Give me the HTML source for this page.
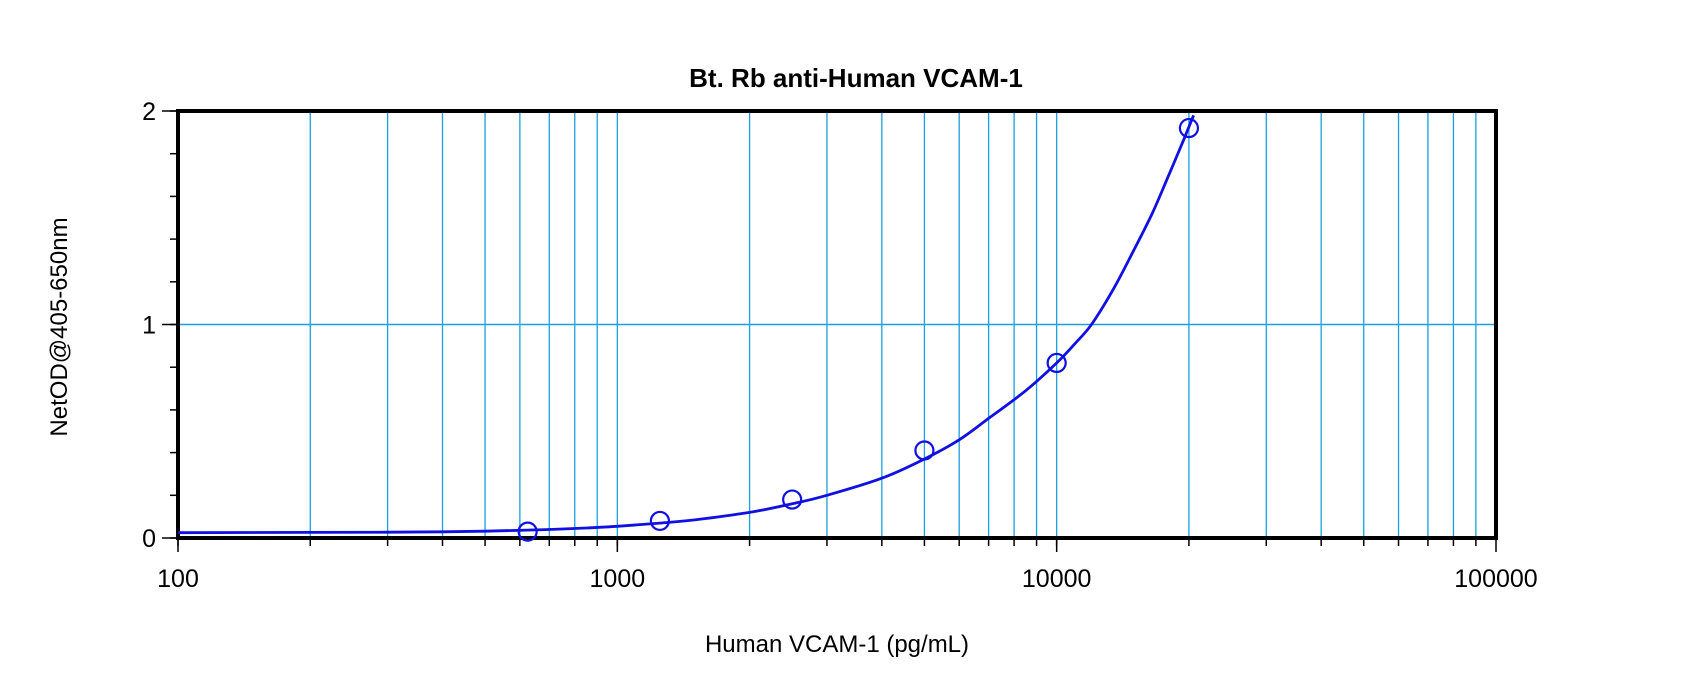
<!DOCTYPE html>
<html><head><meta charset="utf-8"><style>body{margin:0;background:#fff}svg{display:block;font-family:"Liberation Sans",sans-serif}</style></head>
<body>
<svg id="c" width="1700" height="697"></svg>
<script>
const xTicks=[100,1000,10000,100000];
const xTickLabels=["100","1000","10000","100000"];
const yTicks=[0,1,2];
const yTickLabels=["0","1","2"];
const pointX=[625,1250,2500,5000,10000,20000];
const pointY=[0.03,0.08,0.18,0.41,0.82,1.92];
const curveX=[100,200,300,400,500,600,700,850,1000,1250,1500,2000,2500,3000,4000,5000,6000,7000,8500,10000,11000,12000,13500,15000,16500,18000,19500,20500];
const curveY=[0.025,0.026,0.027,0.029,0.032,0.036,0.04,0.047,0.055,0.07,0.085,0.12,0.16,0.2,0.28,0.37,0.46,0.56,0.69,0.82,0.91,1.0,1.17,1.35,1.52,1.7,1.87,1.98];
const L=178,R=1496,T=111,B=538;
const xs=v=>L+(Math.log10(v)-2)/3*(R-L);
const ys=v=>B-v/2*(B-T);
const svg=document.getElementById('c');const NS='http://www.w3.org/2000/svg';
function mk(t,a,p){const e=document.createElementNS(NS,t);for(const k in a)e.setAttribute(k,a[k]);(p||svg).appendChild(e);return e;}
for(let d=100;d<100000;d*=10){for(let m=1;m<10;m++){const v=d*m;const x=xs(v);
 if(v>100){const g=mk('line',{x1:x,x2:x,y1:T,y2:B,stroke:'#1aa0e0','stroke-width':1.3});
 }
 const t=mk('line',{x1:x,x2:x,y1:B,y2:B+8,stroke:'#000','stroke-width':1.5});
 }}
const hg=mk('line',{x1:L,x2:R,y1:ys(1),y2:ys(1),stroke:'#1aa0e0','stroke-width':1.5});

for(let v=0;v<=2.001;v+=0.2){const y=ys(v);const t=mk('line',{x1:L-8,x2:L,y1:y,y2:y,stroke:'#000','stroke-width':1.5});
 }
const f=mk('rect',{x:L,y:T,width:R-L,height:B-T,fill:'none',stroke:'#000','stroke-width':4});

xTicks.forEach((v,i)=>{const x=xs(v);const t=mk('line',{x1:x,x2:x,y1:B,y2:B+14,stroke:'#000','stroke-width':1.5});
 
 const l=mk('text',{x:x,y:587,'text-anchor':'middle','font-size':25});l.textContent=xTickLabels[i];
 });
yTicks.forEach((v,i)=>{const y=ys(v);const t=mk('line',{x1:L-16,x2:L,y1:y,y2:y,stroke:'#000','stroke-width':1.5});
 
 const l=mk('text',{x:L-22,y:y+9,'text-anchor':'end','font-size':25});l.textContent=yTickLabels[i];
 });
// smooth curve (Catmull-Rom)
const P=curveX.map((v,i)=>[xs(v),ys(curveY[i])]);
let d='M'+P[0][0].toFixed(1)+','+P[0][1].toFixed(1);
for(let i=0;i<P.length-1;i++){const p0=P[Math.max(0,i-1)],p1=P[i],p2=P[i+1],p3=P[Math.min(P.length-1,i+2)];
 const c1=[p1[0]+(p2[0]-p0[0])/6,p1[1]+(p2[1]-p0[1])/6],c2=[p2[0]-(p3[0]-p1[0])/6,p2[1]-(p3[1]-p1[1])/6];
 d+=` C${c1[0].toFixed(1)},${c1[1].toFixed(1)} ${c2[0].toFixed(1)},${c2[1].toFixed(1)} ${p2[0].toFixed(1)},${p2[1].toFixed(1)}`;}
const c=mk('path',{d:d,fill:'none',stroke:'#1010e0','stroke-width':2.8,'stroke-linejoin':'round'});

pointX.forEach((v,i)=>{const p=mk('circle',{cx:xs(v),cy:ys(pointY[i]),r:9,fill:'none',stroke:'#1010e0','stroke-width':2.2});
 });
const ti=mk('text',{x:856,y:87,'text-anchor':'middle','font-size':26,'font-weight':'bold'});ti.textContent='Bt. Rb anti-Human VCAM-1';

const xt=mk('text',{x:837,y:652,'text-anchor':'middle','font-size':24});xt.textContent='Human VCAM-1 (pg/mL)';

const yt=mk('text',{x:0,y:0,'text-anchor':'middle','font-size':24,transform:'translate(67,327) rotate(-90)'});yt.textContent='NetOD@405-650nm';

</script>
</body></html>
